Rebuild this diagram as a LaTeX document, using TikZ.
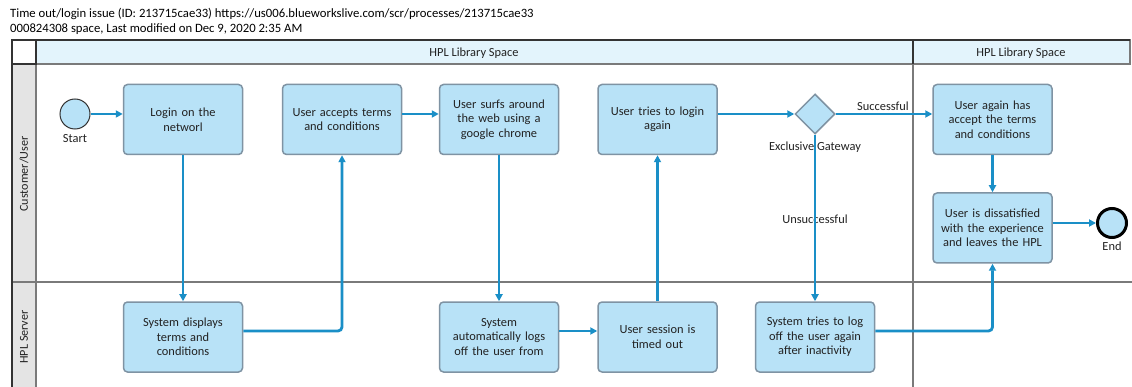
\documentclass[tikz,border=0pt]{standalone}
\usepackage{fontspec}
\setmainfont{Carlito}
\usetikzlibrary{arrows.meta,shapes.geometric}
\definecolor{taskfill}{HTML}{B8E2F7}
\definecolor{taskborder}{HTML}{7F93A3}
\definecolor{flow}{HTML}{1A8FC7}
\definecolor{headfill}{HTML}{E3F4FC}
\definecolor{lanefill}{HTML}{E4E4E4}
\definecolor{frame}{HTML}{333333}
\definecolor{divider}{HTML}{7A7A7A}
\definecolor{txt}{HTML}{222222}
\tikzset{
  task/.style={rectangle, rounded corners=4pt, draw=taskborder, fill=taskfill, line width=1.5pt,
    minimum width=119pt, minimum height=70pt, align=center, text width=112pt,
    font=\fontsize{12.4}{14.5}\selectfont, text=txt, inner sep=0pt},
  gateway/.style={diamond, draw=taskborder, fill=taskfill, line width=1.5pt, minimum width=40pt, minimum height=40pt, inner sep=0pt},
  startev/.style={circle, draw=frame, fill=taskfill, line width=1pt, minimum size=30pt, inner sep=0pt},
  endev/.style={circle, draw=black, fill=taskfill, line width=3pt, minimum size=29pt, inner sep=0pt},
  flowline/.style={draw=flow, line width=2.8pt, rounded corners=4pt, -{Triangle[length=7pt,width=7pt]}},
  lbl/.style={font=\fontsize{12.4}{14}\selectfont, text=txt, inner sep=1pt},
  ttl/.style={font=\fontsize{12.7}{14}\selectfont, anchor=base west, text=black, inner sep=0pt},
  lanelbl/.style={font=\fontsize{12.1}{14}\selectfont, text=txt, rotate=90}
}
\begin{document}
\begin{tikzpicture}[x=1pt,y=-1pt]
\useasboundingbox (0,0) rectangle (1132,387);
\fill[white] (0,0) rectangle (1132,387);
% title
\node[ttl] (t1) at (10,18) {Time out/login issue (ID: 213715cae33) https://us006.blueworkslive.com/scr/processes/213715cae33};
\node[ttl] (t2) at (10,33) {000824308 space, Last modified on Dec 9, 2020 2:35 AM};
% pool frame
\fill[lanefill] (12,64) rectangle (36,390);
\draw[divider, line width=1.5pt] (36,64) -- (36,390);
\draw[divider, line width=1.5pt] (12,282) -- (1132,282);
\draw[divider, line width=1.5pt] (913,64) -- (913,390);
\draw[fill=headfill, draw=divider, line width=1.5pt] (36,40) rectangle (1130,64);
\draw[frame, line width=1.5pt] (36,40) -- (1130,40);
\draw[frame, line width=1.5pt] (913,40) -- (913,64);
\draw[fill=white, draw=frame, line width=1.5pt] (12,40) rectangle (36,64);
\draw[frame, line width=1.5pt] (12,64) -- (12,390);
\node[lbl] (h1) at (474,53) {HPL Library Space};
\node[lbl] (h2) at (1021,53) {HPL Library Space};
\node[lanelbl] (l1) at (24,174) {Customer/User};
\node[lanelbl] (l2) at (24,337) {HPL Server};
% nodes
\node[startev] (start) at (75,114) {};
\node[lbl, anchor=north] (startl) at (75,133) {Start};
\node[task] (login) at (183,119.5) {Login on the\\networl};
\node[task] (accept) at (342,119.5) {User accepts terms\\and conditions};
\node[task] (surf) at (499,119.5) {User surfs around\\the web using a\\google chrome};
\node[task] (retry) at (657.5,119.5) {User tries to login\\again};
\node[gateway] (gw) at (815,114) {};
\node[task] (again) at (992.5,119.5) {User again has\\accept the terms\\and conditions};
\node[task] (dissat) at (992.5,228) {User is dissatisfied\\with the experience\\and leaves the HPL};
\node[endev] (end) at (1112,223) {};
\node[lbl, anchor=north] (endl) at (1112,241) {End};
\node[task] (sysdisp) at (183,337) {System displays\\terms and\\conditions};
\node[task] (autolog) at (499,337) {System\\automatically logs\\off the user from};
\node[task] (timeout) at (657.5,337) {User session is\\timed out};
\node[task] (trylog) at (815,337) {System tries to log\\off the user again\\after inactivity};
% labels under lines
\node[lbl] (gwl) at (815,147) {Exclusive Gateway};
\node[lbl] (unsucc) at (815,219) {Unsuccessful};
\node[lbl] (succ) at (883,106) {Successful};
% flows
\draw[flowline] (start.east) -- (login.west |- start.east);
\draw[flowline] (login.south) -- (sysdisp.north);
\draw[flowline] ([yshift=6pt]sysdisp.east) -| (accept.south);
\draw[flowline] (accept.east |- start.east) -- (surf.west |- start.east);
\draw[flowline] (surf.south) -- (autolog.north);
\draw[flowline] ([yshift=6pt]autolog.east) -- ([yshift=6pt]timeout.west);
\draw[flowline] (timeout.north) -- (retry.south);
\draw[flowline] (retry.east |- gw.west) -- (gw.west);
\draw[flowline] (gw.east) -- (again.west |- gw.east);
\draw[flowline] (gw.south) -- (trylog.north);
\draw[flowline] ([yshift=6pt]trylog.east) -| (dissat.south);
\draw[flowline] (again.south) -- (dissat.north);
\draw[flowline] ([yshift=5pt]dissat.east) -- (end.west);
\end{tikzpicture}
\end{document}
